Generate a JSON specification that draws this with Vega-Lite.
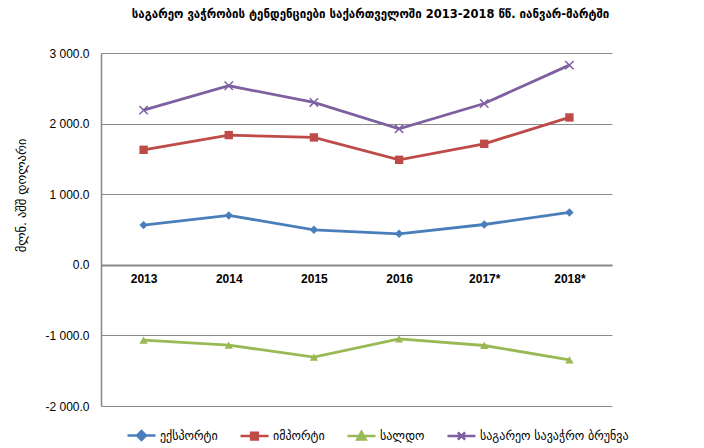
{
  "$schema": "https://vega.github.io/schema/vega-lite/v6.json",
  "width": 511,
  "height": 353,
  "autosize": {"type": "none"},
  "padding": {"left": 101, "top": 53, "right": 92, "bottom": 42},
  "background": "white",
  "config": {"font": "Liberation Sans", "view": {"stroke": null}},
  "title": {
    "text": "საგარეო  ვაჭრობის ტენდენციები საქართველოში  2013-2018 წწ. იანვარ-მარტში",
    "font": "DejaVu Sans",
    "fontSize": 11.5,
    "fontWeight": "bold",
    "color": "black",
    "offset": 27,
    "dx": 14
  },
  "data": {
    "values": [
      {"year": "2013", "series": "ექსპორტი", "value": 562},
      {"year": "2014", "series": "ექსპორტი", "value": 699},
      {"year": "2015", "series": "ექსპორტი", "value": 496},
      {"year": "2016", "series": "ექსპორტი", "value": 439},
      {"year": "2017*", "series": "ექსპორტი", "value": 571},
      {"year": "2018*", "series": "ექსპორტი", "value": 741},
      {"year": "2013", "series": "იმპორტი", "value": 1629},
      {"year": "2014", "series": "იმპორტი", "value": 1837},
      {"year": "2015", "series": "იმპორტი", "value": 1804},
      {"year": "2016", "series": "იმპორტი", "value": 1487},
      {"year": "2017*", "series": "იმპორტი", "value": 1714},
      {"year": "2018*", "series": "იმპორტი", "value": 2087},
      {"year": "2013", "series": "სალდო", "value": -1067},
      {"year": "2014", "series": "სალდო", "value": -1138},
      {"year": "2015", "series": "სალდო", "value": -1308},
      {"year": "2016", "series": "სალდო", "value": -1048},
      {"year": "2017*", "series": "სალდო", "value": -1143},
      {"year": "2018*", "series": "სალდო", "value": -1346},
      {"year": "2013", "series": "საგარეო სავაჭრო ბრუნვა", "value": 2191},
      {"year": "2014", "series": "საგარეო სავაჭრო ბრუნვა", "value": 2536},
      {"year": "2015", "series": "საგარეო სავაჭრო ბრუნვა", "value": 2300},
      {"year": "2016", "series": "საგარეო სავაჭრო ბრუნვა", "value": 1926},
      {"year": "2017*", "series": "საგარეო სავაჭრო ბრუნვა", "value": 2285},
      {"year": "2018*", "series": "საგარეო სავაჭრო ბრუნვა", "value": 2828}
    ]
  },
  "encoding": {
    "x": {
      "field": "year",
      "type": "ordinal",
      "sort": null,
      "scale": {"type": "point", "padding": 0.5},
      "axis": {
        "title": null,
        "orient": "bottom",
        "offset": -141,
        "labelAngle": 0,
        "labelFont": "Liberation Sans",
        "labelFontSize": 12,
        "labelFontWeight": "bold",
        "labelColor": "black",
        "labelPadding": 8,
        "ticks": false,
        "domain": true,
        "domainColor": "#888888",
        "domainWidth": 2,
        "grid": false,
        "zindex": 0
      }
    },
    "y": {
      "field": "value",
      "type": "quantitative",
      "scale": {"domain": [-2000, 3000], "nice": false, "zero": false},
      "axis": {
        "title": "მლნ. აშშ დოლარი",
        "titleFont": "DejaVu Sans",
        "titleFontSize": 12.5,
        "titleFontWeight": "normal",
        "titleColor": "black",
        "titleX": -80,
        "titleY": 142,
        "titleAngle": -90,
        "titleAlign": "center",
        "titleBaseline": "middle",
        "values": [-2000, -1000, 0, 1000, 2000, 3000],
        "labelExpr": "replace(replace(format(datum.value, ',.1f'), ',', ' '), '−', '-')",
        "labelFont": "Liberation Sans",
        "labelFontSize": 12,
        "labelColor": "black",
        "labelPadding": 12,
        "ticks": false,
        "domain": true,
        "domainColor": "#888888",
        "domainWidth": 1.5,
        "grid": true,
        "gridColor": "#8c8c8c",
        "gridWidth": 1
      }
    },
    "color": {
      "field": "series",
      "type": "nominal",
      "sort": null,
      "scale": {
        "domain": ["ექსპორტი", "იმპორტი", "სალდო", "საგარეო სავაჭრო ბრუნვა"],
        "range": ["#4A7EBB", "#BE4B48", "#98B954", "#7D60A0"]
      },
      "legend": {
        "title": null,
        "orient": "none",
        "legendX": 25,
        "legendY": 367,
        "direction": "horizontal",
        "labelFont": "DejaVu Sans",
        "labelFontSize": 12,
        "labelColor": "black",
        "labelOffset": 3,
        "columnPadding": 17,
        "symbolSize": 784,
        "symbolStrokeWidth": 2.5,
        "encode": {
          "symbols": {
            "update": {
              "shape": {"signal": "datum.value === 'ექსპორტი' ? 'M-1,0H1M0,-0.32L0.32,0L0,0.32L-0.32,0Z' : datum.value === 'იმპორტი' ? 'M-1,0H1M-0.24,-0.24H0.24V0.24H-0.24Z' : datum.value === 'სალდო' ? 'M-1,0H1M0,-0.3L0.3,0.24H-0.3Z' : 'M-1,0H1M-0.26,-0.26L0.26,0.26M0.26,-0.26L-0.26,0.26'"},
              "stroke": {"scale": "color", "field": "value"},
              "fill": {"scale": "color", "field": "value"},
              "fillOpacity": {"value": 1},
              "strokeOpacity": {"value": 1},
              "opacity": {"value": 1}
            }
          }
        }
      }
    }
  },
  "layer": [
    {"mark": {"type": "line", "strokeWidth": 2.8}},
    {
      "transform": [{"filter": "datum.series !== 'საგარეო სავაჭრო ბრუნვა'"}],
      "mark": {"type": "point", "filled": true, "opacity": 1, "size": 70},
      "encoding": {
        "shape": {
          "field": "series",
          "type": "nominal",
          "scale": {
            "domain": ["ექსპორტი", "იმპორტი", "სალდო"],
            "range": ["diamond", "square", "triangle-up"]
          },
          "legend": null
        }
      }
    },
    {
      "transform": [{"filter": "datum.series === 'საგარეო სავაჭრო ბრუნვა'"}],
      "mark": {
        "type": "point",
        "filled": false,
        "opacity": 1,
        "size": 70,
        "strokeWidth": 1.5,
        "shape": "M-1,-1L1,1M1,-1L-1,1"
      }
    }
  ]
}
